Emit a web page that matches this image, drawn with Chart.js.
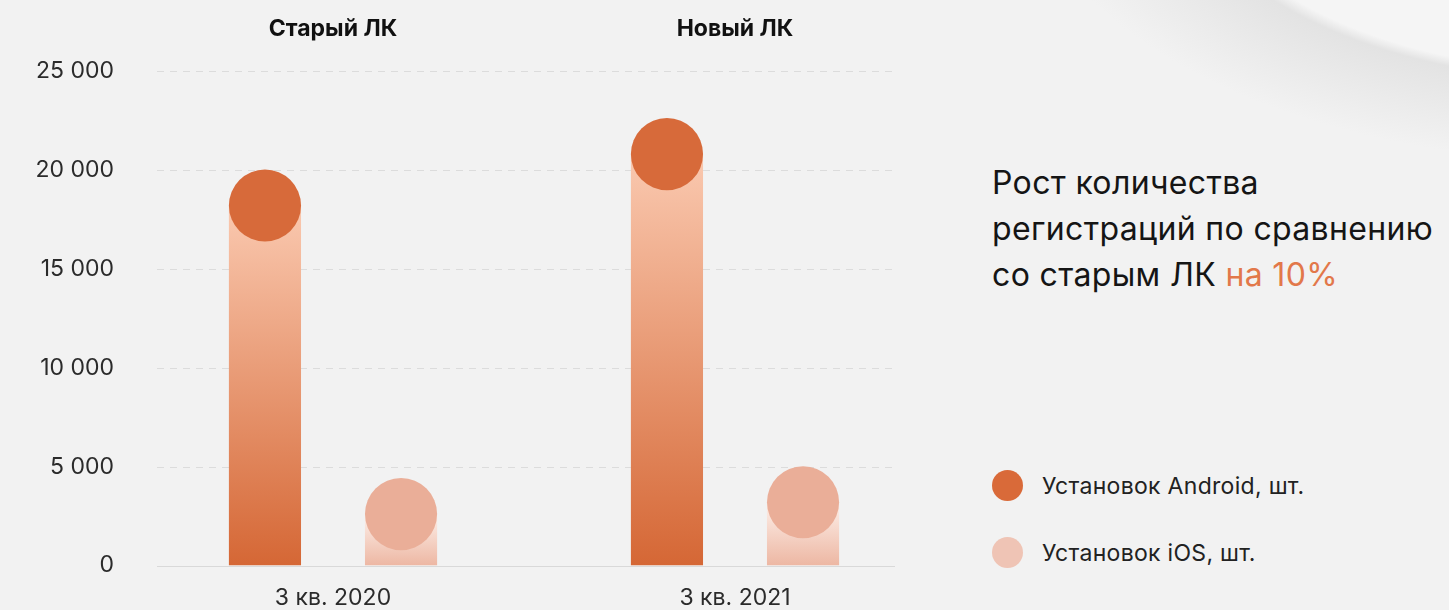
<!DOCTYPE html>
<html lang="ru">
<head>
<meta charset="utf-8">
<title>Установки приложения</title>
<script src="https://cdn.jsdelivr.net/npm/chart.js@4.4.1/dist/chart.umd.min.js"></script>
<style>
  html, body {
    margin: 0;
    padding: 0;
    width: 1449px;
    height: 610px;
    overflow: hidden;
    font-family: Inter, "Noto Sans", sans-serif;
    background:
      radial-gradient(ellipse 430px 231px at 1600px -150px, #f5f5f5 0%, #f5f5f5 96%, #e3e3e3 100%, rgba(238,238,238,0) 135%),
      #f2f2f2;
  }
  #chartBox {
    position: absolute;
    left: 0;
    top: 0;
    width: 960px;
    height: 610px;
  }
  #note {
    position: absolute;
    left: 992px;
    top: 160px;
    font-size: 32px;
    letter-spacing: 0.35px;
    line-height: 46px;
    color: #151515;
    white-space: nowrap;
  }
  #note .accent { color: #e2784a; }
  #legend {
    position: absolute;
    left: 992px;
    top: 470px;
  }
  .item {
    display: flex;
    align-items: center;
    height: 31px;
    margin-bottom: 36px;
    font-size: 23px;
    letter-spacing: 0.3px;
    color: #222;
  }
  .dot {
    width: 31px;
    height: 31px;
    border-radius: 50%;
    margin-right: 19px;
  }
</style>
</head>
<body>
<div id="chartBox"><canvas id="installChart"></canvas></div>
<div id="note">Рост количества<br>регистраций по сравнению<br>со старым ЛК <span class="accent">на 10%</span></div>
<div id="legend"></div>

<script>
// данные графика
const quarters = ['3 кв. 2020', '3 кв. 2021'];
const groupTitles = ['Старый ЛК', 'Новый ЛК'];
const seriesNames = ['Установок Android, шт.', 'Установок iOS, шт.'];
const androidInstalls = [18200, 20800];
const iosInstalls = [2600, 3200];
const yTickValues = [0, 5000, 10000, 15000, 20000, 25000];

const dotColors = ['#d76a3a', '#eaae98'];
const legendColors = ['#d96a39', '#efc4b5'];
const gradStops = [
  ['#fac9b0', '#d56735'],
  ['#fdf0ea', '#edb7a3']
];

Chart.defaults.font.family = 'Inter, "Noto Sans", sans-serif';

// градиент для каждого столбца отдельно
function barGradient(i) {
  return function (ctx) {
    const chart = ctx.chart;
    if (!chart.chartArea || ctx.raw == null) return gradStops[i][1];
    const y = chart.scales.y;
    const top = y.getPixelForValue(ctx.raw);
    const bottom = y.getPixelForValue(0);
    const g = chart.ctx.createLinearGradient(0, top, 0, bottom);
    g.addColorStop(0, gradStops[i][0]);
    g.addColorStop(1, gradStops[i][1]);
    return g;
  };
}

// сетка пунктиром, линия нуля сплошная
const gridPlugin = {
  id: 'shortGrid',
  beforeDatasetsDraw(chart) {
    const c = chart.ctx;
    const y = chart.scales.y;
    const x0 = chart.chartArea.left + 25;
    const x1 = chart.chartArea.right - 41;
    c.save();
    c.lineWidth = 1;
    yTickValues.forEach(v => {
      const py = Math.round(y.getPixelForValue(v)) + 0.5;
      c.beginPath();
      if (v === 0) {
        c.setLineDash([]);
        c.strokeStyle = '#d9d9d9';
      } else {
        c.setLineDash([7, 6]);
        c.strokeStyle = '#dcdcdc';
      }
      c.moveTo(x0, py);
      c.lineTo(x1, py);
      c.stroke();
    });
    c.restore();
  }
};

// кружки на вершинах столбцов
const dotPlugin = {
  id: 'topDots',
  afterDatasetsDraw(chart) {
    const c = chart.ctx;
    c.save();
    chart.data.datasets.forEach((ds, i) => {
      chart.getDatasetMeta(i).data.forEach(bar => {
        c.beginPath();
        c.arc(bar.x, bar.y, bar.width / 2, 0, Math.PI * 2);
        c.fillStyle = dotColors[i];
        c.fill();
      });
    });
    c.restore();
  }
};

new Chart(document.getElementById('installChart'), {
  type: 'bar',
  data: {
    labels: quarters,
    datasets: [
      { label: seriesNames[0], data: androidInstalls, backgroundColor: barGradient(0) },
      { label: seriesNames[1], data: iosInstalls, backgroundColor: barGradient(1) }
    ]
  },
  options: {
    responsive: true,
    maintainAspectRatio: false,
    animation: false,
    categoryPercentage: 0.677,
    barPercentage: 0.53,
    layout: { padding: { left: 0, right: 24, top: 0, bottom: 0 } },
    plugins: {
      legend: { display: false },
      tooltip: { enabled: false }
    },
    scales: {
      x: {
        grid: { display: false, drawTicks: false },
        border: { display: false },
        ticks: { color: '#2b2b2b', font: { size: 23 }, padding: 19 },
        afterFit: s => { s.height = 44.5; }
      },
      x2: {
        type: 'category',
        labels: groupTitles,
        position: 'top',
        offset: true,
        grid: { display: false, drawTicks: false },
        border: { display: false },
        ticks: { color: '#111', font: { size: 23, weight: 'bold' }, padding: 28 },
        afterFit: s => { s.height = 71; }
      },
      y: {
        min: 0,
        max: 25000,
        grid: { display: false, drawTicks: false },
        border: { display: false },
        afterBuildTicks: s => { s.ticks = yTickValues.map(v => ({ value: v })); },
        ticks: {
          color: '#2b2b2b',
          font: { size: 23 },
          padding: 18,
          callback: v => String(v).replace(/\B(?=(\d{3})+(?!\d))/g, ' ')
        },
        afterFit: s => { s.width = 132; }
      }
    }
  },
  plugins: [gridPlugin, dotPlugin]
});

// легенда справа
const legend = document.getElementById('legend');
seriesNames.forEach((name, i) => {
  const row = document.createElement('div');
  row.className = 'item';
  row.innerHTML = '<span class="dot" style="background:' + legendColors[i] + '"></span>' + name;
  legend.appendChild(row);
});
</script>
</body>
</html>
